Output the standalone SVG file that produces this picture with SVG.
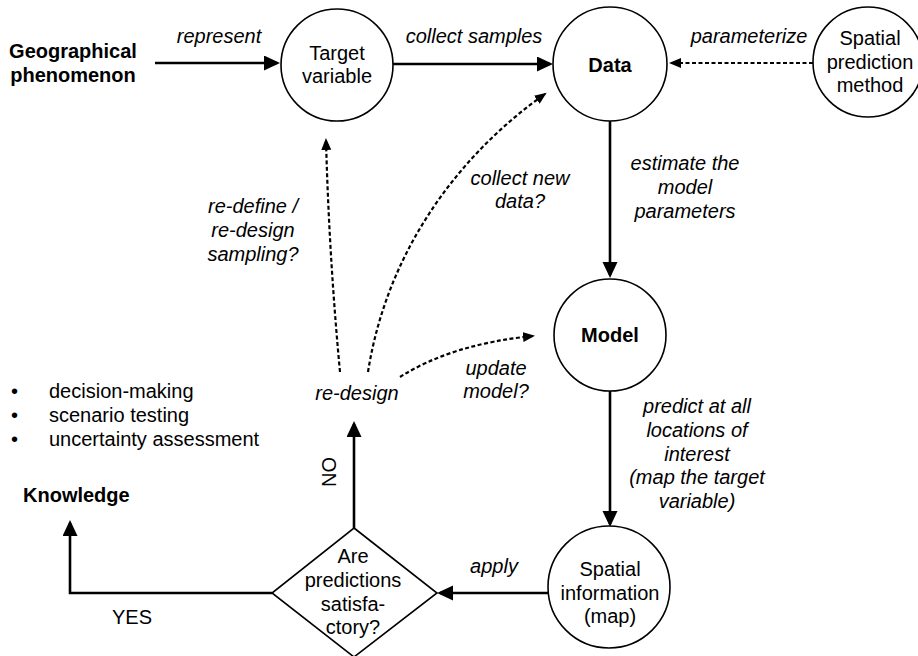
<svg xmlns="http://www.w3.org/2000/svg" width="918" height="656" viewBox="0 0 918 656">
<style>
text{font-family:"Liberation Sans",Arial,sans-serif;font-size:20px;fill:#000}
.b{font-weight:bold}
.i{font-style:italic}
.m{text-anchor:middle}
.node{fill:#fff;stroke:#000;stroke-width:1.6}
.solid{fill:none;stroke:#000;stroke-width:2.6}
.dash{fill:none;stroke:#000;stroke-width:2.2;stroke-dasharray:4 2.5}
</style>
<defs>
<marker id="ah" markerUnits="userSpaceOnUse" markerWidth="17" markerHeight="16" refX="13" refY="7.5" orient="auto">
<path d="M0,0 L16,7.5 L0,15 z" fill="#000"/>
</marker>
<marker id="ad" markerUnits="userSpaceOnUse" markerWidth="13" markerHeight="11" refX="10" refY="5" orient="auto">
<path d="M0,0 L12,5 L0,10 z" fill="#000"/>
</marker>
</defs>

<g id="connectors">
<path class="solid" d="M155,63 L277,63" marker-end="url(#ah)"/>
<path class="solid" d="M393,64 L550,64" marker-end="url(#ah)"/>
<path class="dash" d="M813,63 L671,63" marker-end="url(#ad)"/>
<path class="solid" d="M610,118 L610,275" marker-end="url(#ah)"/>
<path class="solid" d="M610,390 L610,524" marker-end="url(#ah)"/>
<path class="solid" d="M548,593 L440,593" marker-end="url(#ah)"/>
<path class="solid" d="M354,528 L354,424" marker-end="url(#ah)"/>
<path class="solid" d="M272,593 L70,593 L70,523" marker-end="url(#ah)"/>
<path class="dash" d="M340,372 Q329,255 326,140" marker-end="url(#ad)"/>
<path class="dash" d="M368,372 C388,245 465,150 545,94" marker-end="url(#ad)"/>
<path class="dash" d="M400,377 Q452,344 533,336" marker-end="url(#ad)"/>
</g>

<g id="geo">
<text class="b m" x="73" y="58">Geographical</text>
<text class="b m" x="73" y="82">phenomenon</text>
</g>
<g id="target">
<circle class="node" cx="337" cy="65" r="56"/>
<text class="m" x="337" y="60">Target</text>
<text class="m" x="337" y="83">variable</text>
</g>
<g id="data">
<circle class="node" cx="610" cy="64" r="57"/>
<text class="b m" x="610" y="72">Data</text>
</g>
<g id="method">
<circle class="node" cx="868" cy="62" r="55"/>
<text class="m" x="870" y="45">Spatial</text>
<text class="m" x="870" y="69">prediction</text>
<text class="m" x="870" y="92">method</text>
</g>
<g id="model">
<circle class="node" cx="610" cy="335" r="56"/>
<text class="b m" x="610" y="342">Model</text>
</g>
<g id="spatialinfo">
<circle class="node" cx="609" cy="587" r="61"/>
<text class="m" x="610" y="576">Spatial</text>
<text class="m" x="610" y="600">information</text>
<text class="m" x="610" y="623">(map)</text>
</g>
<g id="decision">
<path class="node" d="M354,528 L437,593 L354,657 L272,593 z"/>
<text class="m" x="353" y="563">Are</text>
<text class="m" x="353" y="587">predictions</text>
<text class="m" x="353" y="611">satisfa-</text>
<text class="m" x="353" y="634">ctory?</text>
</g>
<g id="redesign">
<text class="i m" x="357" y="400">re-design</text>
</g>
<g id="knowledge">
<text class="b" x="23" y="502">Knowledge</text>
</g>
<g id="uses">
<text x="11" y="398">•</text>
<text x="49" y="398">decision-making</text>
<text x="11" y="422">•</text>
<text x="49" y="422">scenario testing</text>
<text x="11" y="446">•</text>
<text x="49" y="446">uncertainty assessment</text>
</g>

<g id="labels">
<text class="i m" x="219" y="43">represent</text>
<text class="i m" x="474" y="43">collect samples</text>
<text class="i m" x="749" y="43">parameterize</text>
<text class="i m" x="685" y="170">estimate the</text>
<text class="i m" x="685" y="194">model</text>
<text class="i m" x="685" y="218">parameters</text>
<text class="i m" x="697" y="413">predict at all</text>
<text class="i m" x="697" y="437">locations of</text>
<text class="i m" x="697" y="461">interest</text>
<text class="i m" x="697" y="484">(map the target</text>
<text class="i m" x="697" y="508">variable)</text>
<text class="i m" x="494" y="573">apply</text>
<text class="i m" x="253" y="213">re-define /</text>
<text class="i m" x="253" y="237">re-design</text>
<text class="i m" x="253" y="261">sampling?</text>
<text class="i m" x="520" y="185">collect new</text>
<text class="i m" x="520" y="208">data?</text>
<text class="i m" x="496" y="375">update</text>
<text class="i m" x="496" y="398">model?</text>
<text class="m" x="132" y="624">YES</text>
<text class="m" transform="translate(336,472) rotate(-90)">NO</text>
</g>
</svg>
